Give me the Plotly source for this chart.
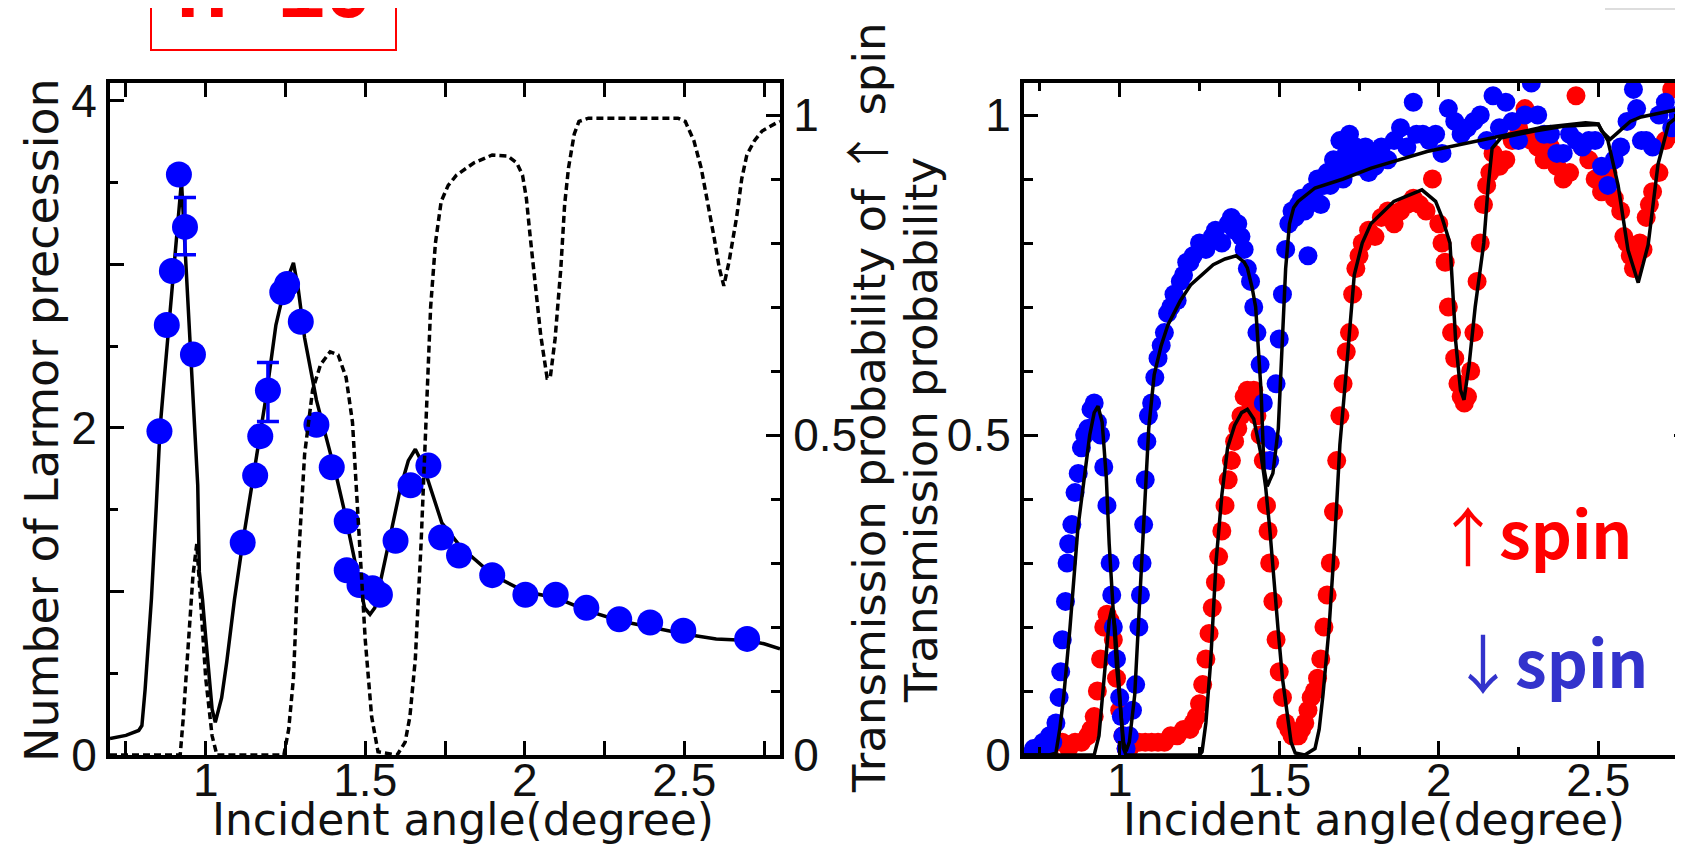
import plotly.graph_objects as go

W, H = 1683, 844

# ---------------- data: left panel ----------------
# measured Larmor precession (blue points)
larmor_x = [0.855, 0.878, 0.894, 0.916, 0.935, 0.960, 1.116, 1.155, 1.171, 1.195,
            1.240, 1.255, 1.298, 1.347, 1.395, 1.442, 1.442, 1.482, 1.523, 1.546,
            1.595, 1.642, 1.698, 1.738, 1.794, 1.898, 2.002, 2.097, 2.193, 2.296,
            2.393, 2.497, 2.697]
larmor_y = [1.98, 2.63, 2.96, 3.55, 3.23, 2.45, 1.30, 1.71, 1.95, 2.23,
            2.83, 2.88, 2.65, 2.02, 1.76, 1.43, 1.13, 1.04, 1.02, 0.98,
            1.31, 1.65, 1.77, 1.33, 1.22, 1.10, 0.98, 0.98, 0.90, 0.83,
            0.81, 0.76, 0.71]
# error bars on two of the points
err_x = [0.935, 1.195]
err_y = [3.235, 2.22]
err_val = [0.175, 0.18]

# theory: number of Larmor precession (solid)
larmor_th_x = [0.70, 0.75, 0.79, 0.80, 0.81, 0.83, 0.845, 0.857, 0.87, 0.89, 0.91, 0.924,
               0.95, 0.975, 0.98, 0.99, 1.00, 1.01, 1.02, 1.03, 1.05, 1.066, 1.09, 1.116,
               1.15, 1.19, 1.22, 1.25, 1.275, 1.29, 1.31, 1.347, 1.386, 1.41, 1.435, 1.47,
               1.498, 1.515, 1.53, 1.562, 1.61, 1.635, 1.657, 1.68, 1.706, 1.74, 1.80,
               1.90, 2.00, 2.10, 2.20, 2.30, 2.40, 2.50, 2.60, 2.70, 2.75, 2.80]
larmor_th_y = [0.10, 0.12, 0.15, 0.18, 0.40, 0.96, 1.52, 2.00, 2.30, 2.75, 3.20, 3.51,
               2.56, 1.65, 1.12, 0.95, 0.72, 0.48, 0.28, 0.20, 0.35, 0.57, 0.95, 1.30,
               1.71, 2.20, 2.63, 2.88, 3.01, 2.85, 2.55, 2.17, 1.88, 1.70, 1.49, 1.15,
               0.90, 0.86, 0.90, 1.19, 1.63, 1.80, 1.87, 1.78, 1.63, 1.42, 1.27,
               1.10, 1.00, 0.96, 0.88, 0.82, 0.78, 0.74, 0.71, 0.70, 0.68, 0.65]

# theory: transmission probability of up spin (dashed, right axis)
trans_up_x = [0.70, 0.90, 0.92, 0.93, 0.945, 0.96, 0.972, 0.985, 1.00, 1.02, 1.035,
              1.245, 1.26, 1.275, 1.29, 1.31, 1.335, 1.36, 1.39, 1.415, 1.44, 1.46,
              1.48, 1.50, 1.52, 1.54, 1.60, 1.625, 1.64, 1.657, 1.675, 1.69, 1.705,
              1.72, 1.738, 1.76, 1.786, 1.84, 1.898, 1.946, 1.975, 1.993, 2.005,
              2.017, 2.035, 2.05, 2.07, 2.08, 2.095, 2.113, 2.125, 2.137, 2.155, 2.17,
              2.20, 2.48, 2.503, 2.53, 2.553, 2.575, 2.593, 2.61, 2.624, 2.64, 2.664,
              2.68, 2.696, 2.72, 2.744, 2.79, 2.80]
trans_up_y = [0.0, 0.0, 0.0, 0.06, 0.17, 0.28, 0.33, 0.24, 0.12, 0.03, 0.0,
              0.0, 0.04, 0.12, 0.30, 0.47, 0.57, 0.61, 0.63, 0.625, 0.59, 0.52,
              0.36, 0.18, 0.06, 0.005, 0.0, 0.02, 0.06, 0.15, 0.33, 0.51, 0.70,
              0.80, 0.865, 0.89, 0.906, 0.925, 0.9375, 0.936, 0.925, 0.906, 0.87,
              0.81, 0.72, 0.656, 0.589, 0.59, 0.65, 0.76, 0.86, 0.917, 0.97, 0.99,
              0.995, 0.995, 0.99, 0.96, 0.917, 0.86, 0.81, 0.76, 0.733, 0.77, 0.84,
              0.90, 0.9375, 0.96, 0.975, 0.988, 0.99]

# ---------------- data: right panel ----------------
down_x = [0.72, 0.73, 0.74, 0.75, 0.76, 0.77, 0.78, 0.79, 0.80, 0.81, 0.815, 0.82, 0.83,
          0.835, 0.84, 0.85, 0.86, 0.87, 0.88, 0.89, 0.90, 0.91, 0.92, 0.93, 0.94, 0.95,
          0.96, 0.97, 0.975, 0.98, 0.99, 1.00, 1.005, 1.01, 1.02, 1.03, 1.04, 1.05, 1.06,
          1.065, 1.07, 1.075, 1.08, 1.085, 1.09, 1.10, 1.11, 1.12, 1.13, 1.14, 1.15, 1.16,
          1.17, 1.18, 1.19, 1.20, 1.21, 1.22, 1.23, 1.25, 1.27, 1.29, 1.30, 1.32, 1.34,
          1.35, 1.36, 1.37, 1.38, 1.39, 1.40, 1.41, 1.42, 1.43, 1.44, 1.45, 1.46, 1.47,
          1.48, 1.49, 1.50, 1.51, 1.52, 1.53, 1.54, 1.55, 1.56, 1.57, 1.58, 1.59, 1.60,
          1.61, 1.62, 1.63, 1.64, 1.65, 1.66, 1.67, 1.68, 1.69, 1.70, 1.71, 1.72, 1.73,
          1.74, 1.75, 1.76, 1.77, 1.78, 1.79, 1.80, 1.82, 1.84, 1.86, 1.88, 1.90, 1.92,
          1.93, 1.95, 1.97, 1.99, 2.01, 2.03, 2.05, 2.07, 2.09, 2.11, 2.13, 2.15, 2.17,
          2.19, 2.21, 2.23, 2.25, 2.27, 2.29, 2.31, 2.33, 2.35, 2.37, 2.39, 2.41, 2.43,
          2.45, 2.47, 2.49, 2.51, 2.53, 2.55, 2.57, 2.59, 2.61, 2.62, 2.635, 2.65, 2.67,
          2.69, 2.71, 2.73, 2.75, 2.77]
down_y = [0.00, 0.01, 0.00, 0.01, 0.02, 0.01, 0.03, 0.02, 0.05, 0.09, 0.13, 0.18, 0.24,
          0.30, 0.33, 0.36, 0.41, 0.44, 0.48, 0.50, 0.51, 0.54, 0.55, 0.52, 0.50, 0.45,
          0.39, 0.30, 0.25, 0.20, 0.15, 0.09, 0.06, 0.03, 0.01, 0.03, 0.07, 0.11, 0.20,
          0.25, 0.30, 0.36, 0.43, 0.49, 0.53, 0.55, 0.59, 0.62, 0.64, 0.66, 0.69, 0.70,
          0.72, 0.71, 0.74, 0.75, 0.77, 0.77, 0.78, 0.80, 0.79, 0.81, 0.82, 0.80, 0.83,
          0.84, 0.82, 0.83, 0.81, 0.79, 0.76, 0.74, 0.70, 0.66, 0.61, 0.55, 0.50, 0.46,
          0.49, 0.58, 0.65, 0.72, 0.79, 0.83, 0.85, 0.84, 0.86, 0.87, 0.85, 0.78, 0.88,
          0.87, 0.90, 0.86, 0.89, 0.91, 0.89, 0.93, 0.92, 0.96, 0.90, 0.94, 0.97, 0.92,
          0.95, 0.92, 0.94, 0.95, 0.91, 0.93, 0.92, 0.95, 0.93, 0.96, 0.98, 0.95, 1.02,
          0.97, 0.97, 0.96, 0.97, 0.94, 1.01, 0.99, 0.97, 0.98, 0.99, 1.00, 0.96, 1.03,
          0.98, 1.02, 0.99, 0.96, 1.00, 1.05, 1.00, 0.97, 0.97, 0.94, 0.94, 0.97, 0.96,
          0.95, 0.96, 0.96, 0.92, 0.89, 0.93, 0.95, 0.99, 1.04, 1.01, 0.96, 0.96, 0.95,
          1.00, 1.02, 0.98, 1.00, 0.99]

up_x = [0.72, 0.74, 0.76, 0.78, 0.80, 0.82, 0.84, 0.86, 0.88, 0.90, 0.91, 0.92, 0.93,
        0.94, 0.95, 0.96, 0.97, 0.98, 0.99, 1.00, 1.01, 1.02, 1.03, 1.04, 1.06, 1.08,
        1.10, 1.12, 1.14, 1.16, 1.18, 1.20, 1.22, 1.23, 1.24, 1.25, 1.26, 1.27, 1.28,
        1.29, 1.30, 1.31, 1.32, 1.33, 1.34, 1.35, 1.36, 1.37, 1.38, 1.39, 1.40, 1.41,
        1.42, 1.43, 1.44, 1.45, 1.46, 1.465, 1.47, 1.48, 1.49, 1.50, 1.51, 1.52, 1.53,
        1.54, 1.55, 1.56, 1.57, 1.58, 1.59, 1.60, 1.61, 1.62, 1.63, 1.64, 1.65, 1.66,
        1.67, 1.68, 1.69, 1.70, 1.71, 1.72, 1.73, 1.74, 1.75, 1.76, 1.78, 1.80, 1.82,
        1.84, 1.86, 1.88, 1.90, 1.92, 1.94, 1.96, 1.98, 2.00, 2.01, 2.02, 2.03, 2.04,
        2.05, 2.06, 2.07, 2.08, 2.09, 2.10, 2.11, 2.12, 2.13, 2.14, 2.15, 2.16, 2.17,
        2.19, 2.21, 2.23, 2.25, 2.27, 2.29, 2.31, 2.33, 2.35, 2.37, 2.39, 2.41, 2.43,
        2.45, 2.47, 2.49, 2.51, 2.53, 2.55, 2.57, 2.58, 2.59, 2.60, 2.61, 2.62, 2.63,
        2.64, 2.65, 2.66, 2.67, 2.69, 2.71, 2.73, 2.75, 2.77]
up_y = [0.00, 0.01, 0.01, 0.00, 0.02, 0.02, 0.01, 0.02, 0.02, 0.03, 0.04, 0.06, 0.10,
        0.15, 0.20, 0.22, 0.21, 0.18, 0.12, 0.07, 0.03, 0.01, 0.01, 0.02, 0.02, 0.02,
        0.02, 0.02, 0.02, 0.03, 0.03, 0.04, 0.04, 0.05, 0.06, 0.08, 0.11, 0.15, 0.19,
        0.23, 0.27, 0.31, 0.35, 0.39, 0.43, 0.46, 0.49, 0.51, 0.53, 0.56, 0.57, 0.55,
        0.57, 0.53, 0.50, 0.46, 0.39, 0.35, 0.30, 0.24, 0.18, 0.13, 0.09, 0.05, 0.04,
        0.03, 0.03, 0.03, 0.04, 0.05, 0.07, 0.09, 0.10, 0.12, 0.15, 0.20, 0.25, 0.30,
        0.38, 0.46, 0.53, 0.58, 0.63, 0.66, 0.72, 0.76, 0.78, 0.80, 0.82, 0.81, 0.84,
        0.85, 0.83, 0.85, 0.86, 0.87, 0.86, 0.85, 0.90, 0.83, 0.80, 0.77, 0.70, 0.66,
        0.62, 0.58, 0.56, 0.55, 0.56, 0.60, 0.66, 0.74, 0.80, 0.86, 0.89, 0.91, 0.94,
        0.92, 0.93, 0.96, 0.98, 1.01, 0.96, 0.95, 0.93, 0.95, 0.92, 0.90, 0.91, 1.03,
        0.95, 0.93, 0.90, 0.88, 0.91, 0.87, 0.85, 0.81, 0.80, 0.78, 0.76, 0.78, 0.80,
        0.79, 0.84, 0.86, 0.88, 0.91, 0.96, 1.04, 0.97, 0.95]

# theory curves in right panel
down_th_x = [0.70, 0.78, 0.80, 0.812, 0.825, 0.844, 0.869, 0.89, 0.906, 0.92, 0.932, 0.945,
             0.958, 0.967, 0.976, 0.99, 1.003, 1.012, 1.02, 1.03, 1.047, 1.064, 1.082,
             1.091, 1.108, 1.13, 1.151, 1.19, 1.223, 1.293, 1.33, 1.365, 1.39, 1.40,
             1.415, 1.426, 1.443, 1.452, 1.462, 1.48, 1.497, 1.51, 1.52, 1.532, 1.545,
             1.559, 1.612, 1.70, 1.788, 1.963, 2.141, 2.318, 2.46, 2.50, 2.51, 2.537,
             2.56, 2.60, 2.634, 2.70, 2.74, 2.78]
down_th_y = [0.0, 0.0, 0.003, 0.04, 0.094, 0.198, 0.355, 0.44, 0.50, 0.535, 0.545, 0.52,
             0.433, 0.33, 0.25, 0.14, 0.069, 0.02, 0.006, 0.02, 0.094, 0.25, 0.406,
             0.511, 0.594, 0.64, 0.672, 0.71, 0.735, 0.766, 0.775, 0.78, 0.77, 0.761,
             0.73, 0.70, 0.569, 0.448, 0.42, 0.44, 0.51, 0.66, 0.76, 0.83, 0.855,
             0.865, 0.886, 0.90, 0.917, 0.943, 0.961, 0.98, 0.988, 0.986, 0.975, 0.962,
             0.972, 0.99, 0.997, 1.003, 1.008, 1.01]
up_th_x = [0.70, 0.92, 0.935, 0.945, 0.957, 0.967, 0.976, 0.985, 0.994, 1.003, 1.011, 1.02,
           1.25, 1.258, 1.27, 1.285, 1.302, 1.32, 1.338, 1.36, 1.382, 1.40, 1.42, 1.443,
           1.457, 1.47, 1.483, 1.496, 1.51, 1.523, 1.537, 1.55, 1.58, 1.612, 1.625, 1.637,
           1.656, 1.673, 1.69, 1.709, 1.735, 1.76, 1.787, 1.859, 1.947, 1.99, 2.01, 2.035,
           2.053, 2.068, 2.079, 2.095, 2.114, 2.141, 2.155, 2.167, 2.194, 2.30, 2.40, 2.50,
           2.53, 2.562, 2.593, 2.625, 2.656, 2.687, 2.72, 2.78]
up_th_y = [0.0, 0.0, 0.03, 0.09, 0.16, 0.21, 0.23, 0.20, 0.14, 0.06, 0.011, 0.0,
           0.0, 0.005, 0.05, 0.146, 0.302, 0.406, 0.48, 0.515, 0.535, 0.54, 0.525, 0.469,
           0.42, 0.355, 0.27, 0.198, 0.12, 0.069, 0.02, 0.003, 0.0, 0.01, 0.04, 0.094,
           0.198, 0.328, 0.485, 0.594, 0.75, 0.80, 0.83, 0.865, 0.883, 0.865, 0.84, 0.80,
           0.646, 0.57, 0.555, 0.61, 0.70, 0.80, 0.89, 0.948, 0.964, 0.975, 0.983, 0.985,
           0.96, 0.89, 0.789, 0.738, 0.797, 0.923, 0.986, 1.01]

# axis ticks
x_major = [1, 1.5, 2, 2.5]
x_major_text = ["1", "1.5", "2", "2.5"]
x_minor = [0.75, 1.25, 1.75, 2.25, 2.75]
yl_major = [0, 1, 2, 3, 4]
yl_major_text = ["0", "", "2", "", "4"]
yl_minor = [0.5, 1.5, 2.5, 3.5]
yp_major = [0, 0.5, 1]
yp_major_text = ["0", "0.5", "1"]
yp_minor = [0.1, 0.2, 0.3, 0.4, 0.6, 0.7, 0.8, 0.9]

# ---------------- figure ----------------
BLUE = "#0000ff"
RED = "#ff0000"
FONT = "Liberation Sans, Arial, sans-serif"
TFONT = "DejaVu Sans, Liberation Sans, sans-serif"


def px(x):
    return x / W


def py(y):
    return 1 - y / H


fig = go.Figure()

# left panel
fig.add_trace(go.Scatter(x=trans_up_x, y=trans_up_y, mode="lines", xaxis="x", yaxis="y2",
                         line=dict(color="black", width=3.5, dash="7px,4px")))
fig.add_trace(go.Scatter(x=larmor_th_x, y=larmor_th_y, mode="lines", xaxis="x", yaxis="y",
                         line=dict(color="black", width=3.5)))
fig.add_trace(go.Scatter(x=err_x, y=err_y, mode="markers", xaxis="x", yaxis="y",
                         marker=dict(size=1, color="rgba(0,0,0,0)"),
                         error_y=dict(type="data", array=err_val, color=BLUE,
                                      thickness=3.5, width=11)))
fig.add_trace(go.Scatter(x=larmor_x, y=larmor_y, mode="markers", xaxis="x", yaxis="y",
                         marker=dict(size=26, color=BLUE, line=dict(width=0))))

# right panel
fig.add_trace(go.Scatter(x=up_x, y=up_y, mode="markers", xaxis="x2", yaxis="y3",
                         marker=dict(size=19, color=RED, line=dict(width=0))))
fig.add_trace(go.Scatter(x=down_x, y=down_y, mode="markers", xaxis="x2", yaxis="y3",
                         marker=dict(size=19, color=BLUE, line=dict(width=0))))
fig.add_trace(go.Scatter(x=up_th_x, y=up_th_y, mode="lines", xaxis="x2", yaxis="y3",
                         line=dict(color="black", width=3.5)))
fig.add_trace(go.Scatter(x=down_th_x, y=down_th_y, mode="lines", xaxis="x2", yaxis="y3",
                         line=dict(color="black", width=3.5)))

tickfont = dict(family=FONT, size=46, color="#111")
common = dict(showgrid=False, zeroline=False, showline=True, linecolor="black",
              linewidth=4, ticks="inside", tickcolor="black", tickwidth=3,
              tickfont=tickfont, automargin=False)


def minor(vals, ln):
    return dict(tickvals=vals, ticks="inside", ticklen=ln, tickwidth=3, tickcolor="black")


ydom = [py(747), py(75)]
xaxis_l = dict(domain=[px(102), px(772)], range=[0.7, 2.8], anchor="y",
               tickmode="array", tickvals=x_major, ticktext=x_major_text, ticklen=14,
               mirror="allticks", minor=minor(x_minor, 8), ticklabelstandoff=-18,
               **common)
xaxis_r = dict(domain=[px(1016), px(1680)], range=[0.7, 2.781], anchor="y3",
               tickmode="array", tickvals=x_major, ticktext=x_major_text, ticklen=14,
               mirror="allticks", minor=minor(x_minor, 8), ticklabelstandoff=-18,
               **common)
yaxis_l = dict(domain=ydom, range=[0, 4.11], anchor="x", tickmode="array",
               tickvals=yl_major, ticktext=yl_major_text, ticklen=14, mirror=True,
               minor=minor(yl_minor, 8), **common)
yaxis_l2 = dict(range=[0, 1.05], overlaying="y", side="right", anchor="x",
                tickmode="array", tickvals=yp_major, ticktext=yp_major_text, ticklen=14,
                minor=minor(yp_minor, 9), **common)
yaxis_r = dict(domain=ydom, range=[0, 1.05], anchor="x2", tickmode="array",
               tickvals=yp_major, ticktext=yp_major_text, ticklen=14, mirror="allticks",
               minor=minor(yp_minor, 9), **common)

arrow_up = '<span style="font-family:\'Noto Sans CJK JP\'">↑</span>'
annotations = [
    dict(text="Incident angle(degree)", x=px(455), y=py(811), xref="paper", yref="paper",
         xanchor="center", yanchor="middle", showarrow=False,
         font=dict(family=TFONT, size=44, color="#111")),
    dict(text="Incident angle(degree)", x=px(1366), y=py(811), xref="paper", yref="paper",
         xanchor="center", yanchor="middle", showarrow=False,
         font=dict(family=TFONT, size=44, color="#111")),
    dict(text="Number of Larmor precession", x=px(34), y=py(412), xref="paper",
         yref="paper", xanchor="center", yanchor="middle", textangle=-90,
         showarrow=False, font=dict(family=TFONT, size=46, color="#111")),
    dict(text="Transmission probability of " + arrow_up + " spin", x=px(857), y=py(400),
         xref="paper", yref="paper", xanchor="center", yanchor="middle", textangle=-90,
         showarrow=False, font=dict(family=TFONT, size=45, color="#111")),
    dict(text="Transmission probability", x=px(913), y=py(422), xref="paper",
         yref="paper", xanchor="center", yanchor="middle", textangle=-90,
         showarrow=False, font=dict(family=TFONT, size=45, color="#111")),
    dict(text="<b>n=10</b>", x=px(266), y=py(29), xref="paper", yref="paper",
         xanchor="center", yanchor="bottom", showarrow=False,
         font=dict(family=FONT, size=85, color=RED)),
    dict(text="↑", x=px(1460), y=py(525), xref="paper", yref="paper",
         xanchor="center", yanchor="middle", showarrow=False,
         font=dict(family="Noto Sans CJK JP", size=64, color=RED)),
    dict(text="<b>spin</b>", x=px(1557), y=py(523), xref="paper", yref="paper",
         xanchor="center", yanchor="middle", showarrow=False,
         font=dict(family="Noto Sans CJK KR, Noto Sans", size=64, color=RED)),
    dict(text="↓", x=px(1475), y=py(652), xref="paper", yref="paper",
         xanchor="center", yanchor="middle", showarrow=False,
         font=dict(family="Noto Sans CJK JP", size=64, color="#3333cc")),
    dict(text="<b>spin</b>", x=px(1573), y=py(652), xref="paper", yref="paper",
         xanchor="center", yanchor="middle", showarrow=False,
         font=dict(family="Noto Sans CJK KR, Noto Sans", size=64, color="#3333cc")),
]

shapes = [
    dict(type="rect", xref="paper", yref="paper", x0=px(143), x1=px(388),
         y0=py(42), y1=py(-20), line=dict(color=RED, width=2), fillcolor="rgba(0,0,0,0)"),
    dict(type="line", xref="paper", yref="paper", x0=px(1597), x1=px(1683),
         y0=py(1), y1=py(1), line=dict(color="#dddddd", width=2)),
]

fig.update_layout(
    width=W, height=H, margin=dict(l=0, r=0, t=0, b=0, autoexpand=False),
    paper_bgcolor="white", plot_bgcolor="white", showlegend=False,
    xaxis=xaxis_l, yaxis=yaxis_l, yaxis2=yaxis_l2,
    xaxis2=xaxis_r, yaxis3=yaxis_r,
    annotations=annotations, shapes=shapes,
)

fig.write_html("out.html")
